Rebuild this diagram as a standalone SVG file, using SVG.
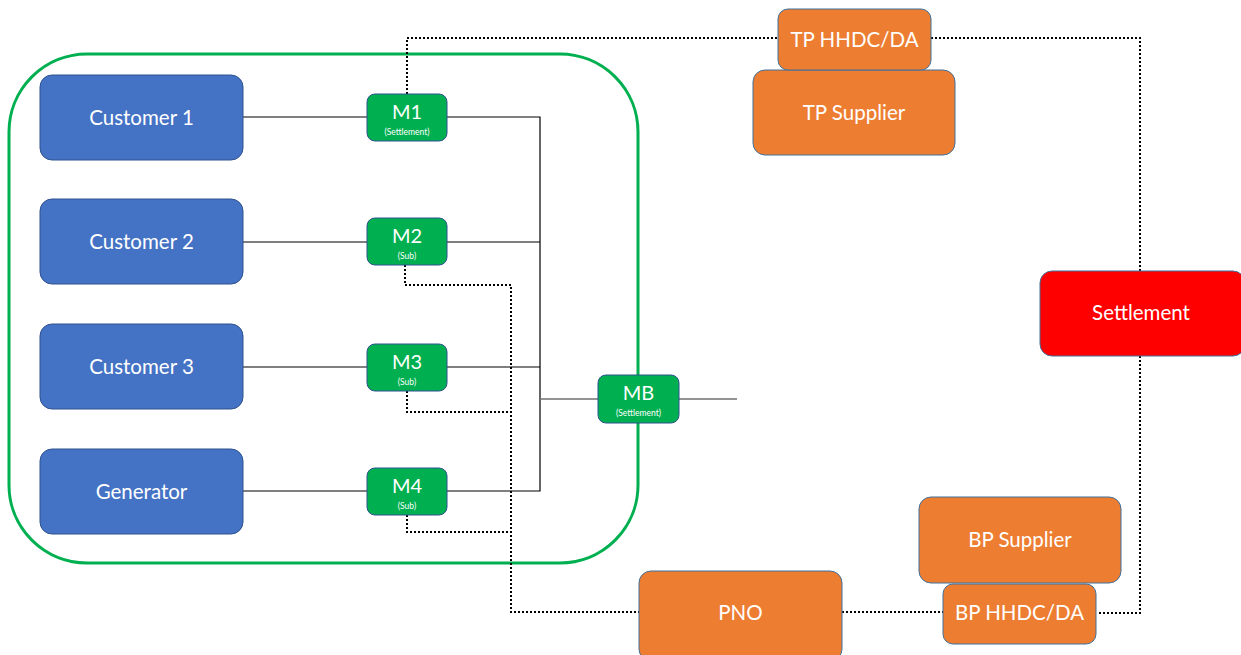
<svg xmlns="http://www.w3.org/2000/svg" width="1241" height="655" viewBox="0 0 1241 655">
<style>
.cust{fill:#4472C4;stroke:#2F528F;stroke-width:1}
.meter{fill:#00B050;stroke:#2F528F;stroke-width:1}
.org{fill:#ED7D31;stroke:#41719C;stroke-width:1}
.red{fill:#FF0000;stroke:#41719C;stroke-width:1}
.t{font-family:Lato,"Open Sans","Liberation Sans",sans-serif;fill:#fff;text-anchor:middle}
.big{font-size:20.5px}
.mt{font-size:20px}
.sm{font-size:8.5px}
.solid{fill:none;stroke:#000;stroke-width:1.2}
.gray{fill:none;stroke:#6f6f6f;stroke-width:1.5}
.dot{fill:none;stroke:#000;stroke-width:2;stroke-dasharray:2 2}
</style>
<rect x="0" y="0" width="1241" height="655" fill="#fff"/>
<g id="boundary"><rect x="9" y="54" width="629" height="509" rx="78" ry="78" fill="none" stroke="#00B050" stroke-width="3"/></g>
<g id="connectors">
<line class="solid" x1="243" y1="117" x2="367" y2="117"/>
<line class="solid" x1="243" y1="242" x2="367" y2="242"/>
<line class="solid" x1="243" y1="367" x2="367" y2="367"/>
<line class="solid" x1="243" y1="491" x2="367" y2="491"/>
<polyline class="solid" points="447,117 540,117 540,491 447,491"/>
<line class="solid" x1="447" y1="242" x2="540" y2="242"/>
<line class="solid" x1="447" y1="367" x2="540" y2="367"/>
<line class="gray" x1="540" y1="399" x2="598" y2="399"/>
<line class="gray" x1="679" y1="399" x2="737" y2="399"/>
<polyline class="dot" points="407,94 407,38 778,38"/>
<polyline class="dot" points="931,38 1140,38 1140,271"/>
<polyline class="dot" points="1140,356 1140,613 1097,613"/>
<polyline class="dot" points="405,265 405,285 511,285 511,612 639,612"/>
<polyline class="dot" points="407,391 407,412 511,412"/>
<polyline class="dot" points="407,515 407,532 511,532"/>
<line class="dot" x1="842" y1="612" x2="943" y2="612"/>
</g>
<g id="customer1"><rect class="cust" x="40" y="75" width="203" height="85" rx="12"/><text class="t big" x="141.5" y="125">Customer 1</text></g>
<g id="customer2"><rect class="cust" x="40" y="199" width="203" height="85" rx="12"/><text class="t big" x="141.5" y="249">Customer 2</text></g>
<g id="customer3"><rect class="cust" x="40" y="324" width="203" height="85" rx="12"/><text class="t big" x="141.5" y="374">Customer 3</text></g>
<g id="generator"><rect class="cust" x="40" y="449" width="203" height="85" rx="12"/><text class="t big" x="141.5" y="499">Generator</text></g>
<g id="m1"><rect class="meter" x="367" y="94" width="80" height="47" rx="8"/><text class="t mt" x="407" y="119">M1</text><text class="t sm" x="407" y="135">(Settlement)</text></g>
<g id="m2"><rect class="meter" x="367" y="218" width="80" height="47" rx="8"/><text class="t mt" x="407" y="243">M2</text><text class="t sm" x="407" y="259">(Sub)</text></g>
<g id="m3"><rect class="meter" x="367" y="344" width="80" height="47" rx="8"/><text class="t mt" x="407" y="369">M3</text><text class="t sm" x="407" y="385">(Sub)</text></g>
<g id="m4"><rect class="meter" x="367" y="468" width="80" height="47" rx="8"/><text class="t mt" x="407" y="493">M4</text><text class="t sm" x="407" y="509">(Sub)</text></g>
<g id="mb"><rect class="meter" x="598" y="375" width="81" height="48" rx="8"/><text class="t mt" x="638.5" y="400">MB</text><text class="t sm" x="638.5" y="416">(Settlement)</text></g>
<g id="tp-supplier"><rect class="org" x="753" y="70" width="202" height="85" rx="12"/><text class="t big" x="854" y="120">TP Supplier</text></g>
<g id="tp-hhdc"><rect class="org" x="778" y="9" width="153" height="61" rx="10"/><text class="t big" x="854.5" y="47">TP HHDC/DA</text></g>
<g id="settlement"><rect class="red" x="1040" y="271" width="205" height="85" rx="12"/><text class="t big" x="1141" y="320">Settlement</text></g>
<g id="bp-supplier"><rect class="org" x="919" y="497" width="202" height="86" rx="12"/><text class="t big" x="1020" y="547">BP Supplier</text></g>
<g id="bp-hhdc"><rect class="org" x="943" y="584" width="153" height="60" rx="10"/><text class="t big" x="1019.5" y="620">BP HHDC/DA</text></g>
<g id="pno"><rect class="org" x="639" y="571" width="203" height="90" rx="12"/><text class="t big" x="740.5" y="620">PNO</text></g>
</svg>
